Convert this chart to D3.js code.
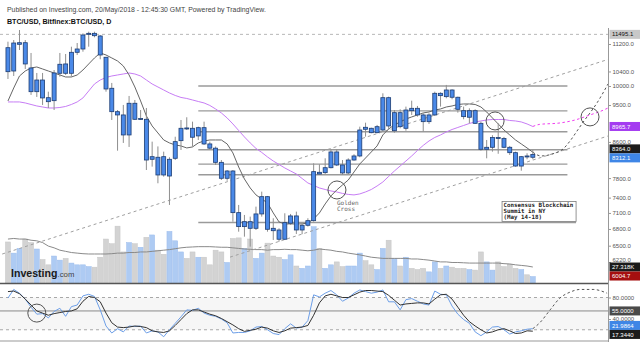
<!DOCTYPE html>
<html>
<head>
<meta charset="utf-8">
<title>BTC/USD Bitfinex daily</title>
<style>
    body { margin: 0; background: #fff; }
    svg { display: block; font-family: "Liberation Sans", Arial, sans-serif; }
</style>
</head>
<body>
<svg width="640" height="353"></svg>
<script src="https://cdn.jsdelivr.net/npm/d3@7"></script>
<script>
// daily bars, one per day from the first date
var firstDay = "2018-02-17";

var opens = [11089,10413,11191,11239,10498,9848,10163,9690,9612,10349,
    10613,10349,10952,11050,11497,11527,11445,10806,9939,9331,
    9249,8763,9545,9141,9141,8206,8251,8264,7844,8228,
    8629,8930,8922,8740,8937,8553,8456,8139,7796,7951,
    7106,6843,6935,6812,7081,7419,6812,6781,6614,6906,
    7043,6781,6868,6954,7923,7916,8022,8370,8081,7909,
    8190,8280,8946,8922,8817,8881,9690,8864,9306,8922,
    9416,9416,9249,9083,9249,9805,9717,9893,9701,9356,
    9192,9356,9042,8431,8476,8702,8678,8476,8354,8058,
    8280,8251];
var highs = [11270,11321,11631,11321,10932,10358,10358,9848,10441,10932,
    10902,11119,11230,11527,11578,11578,11476,10815,10083,9373,
    9502,9735,9630,9373,9424,8606,8496,8377,8251,8721,
    9124,9191,9083,8961,9083,8606,8494,8190,7972,7972,
    7255,7062,7030,7222,7520,7433,6999,6812,7094,7081,
    7125,6906,6999,8118,8096,8228,8431,8431,8190,8228,
    8318,8961,9058,8937,9003,9805,9717,9373,9391,9459,
    9612,9476,9291,9291,9848,9832,10029,9912,9717,9459,
    9416,9391,9083,8645,8757,9042,8717,8507,8377,8280,
    8340,8415];
var lows = [10191,10274,11020,10470,9762,9709,9502,9424,9373,10255,
    10302,10255,10873,10970,11119,11405,10748,9848,9124,8399,
    8576,8484,9124,9124,7972,8045,7692,7830,7255,8190,
    8415,8881,8491,8645,8530,8433,8081,7760,7745,6935,
    6750,6660,6483,6781,7030,6750,6601,6571,6601,6874,
    6709,6705,6844,6935,7866,7887,8008,8058,7866,7887,
    8175,8251,8723,8803,8803,8841,8881,8817,8922,8864,
    9249,9207,8841,9027,9224,9459,9674,9648,9306,9141,
    9042,9027,8399,8228,8377,8329,8456,8302,8044,7957,
    8206,8206];
var closes = [10394,11230,11239,10613,9848,10163,9683,9586,10358,10604,
    10349,10952,11050,11476,11527,11454,10873,9920,9331,9249,
    8763,9545,9141,9160,8190,8264,7866,7866,8206,8606,
    8922,8915,8709,8937,8553,8456,8139,7796,7951,7106,
    6843,6935,6812,7081,7419,6794,6768,6614,6917,7043,
    6781,6868,6954,7937,7887,8022,8370,8081,7909,8190,
    8280,8881,8898,8817,8961,9690,8978,9306,8961,9373,
    9356,9249,9083,9249,9805,9743,9893,9701,9391,9207,
    9356,9042,8431,8476,8702,8690,8476,8354,8058,8264,
    8270,8312.1];
// volume in thousands
var volumesK = [70,51,59,75,69,58,40,31,46,39,
    42,34,31,31,28,27,44,75,67,97,
    53,69,67,61,78,82,56,49,88,72,
    53,42,53,44,44,31,56,53,35,76,
    77,59,75,42,51,68,46,44,40,48,
    29,25,29,96,59,25,31,36,28,29,
    29,51,38,31,23,59,73,42,29,44,
    25,23,25,19,36,25,29,27,25,25,
    23,22,53,36,22,36,28,32,25,23,
    14,11];
var volumeAvgK = [75,76,75,75,73,72,69,63,60,56,
    54,52,51,50,49.5,49.5,49.5,49.5,50,51,
    51,52,52,53,53,54,55,56,57,58.5,
    60,61,61.5,62,62,62,61.5,61,61,60,
    59,58,57.5,57,57,56,57,57,57.5,57,
    57,56,55,56,58,57,56,54,53,51,
    49.5,48,46,44,43,42,42,42,42,42,
    41,41,40,39,37.5,36,36,35,35,34.5,
    34,34,34,34,34,34,33,32.5,31,30,
    29,27.318];
// short moving average (gray) and long one (violet)
var maShort = [9604,9947,10274,10413,10498,10527,10470,10413,10358,10302,
    10246,10246,10302,10441,10613,10786,10932,10873,10786,10698,
    10555,10302,9974,9604,9224,8978,8810,8645,8576,8530,
    8507,8461,8484,8576,8622,8645,8645,8645,8553,8348,
    8037,7781,7595,7454,7373,7294,7100,6930,6893,6893,
    6893,6893,6911,6986,7100,7275,7433,7554,7657,7760,
    7930,8103,8235,8370,8507,8763,8905,9003,9075,9149,
    9199,9249,9299,9323,9373,9399,9450,9476,9514,9527,
    9527,9514,9450,9323,9174,9027,8881,8763,8645,8553,
    8461,8364.0];
var maLong = [9579,9579,9579,9553,9514,9476,9450,9424,9424,9437,
    9463,9514,9579,9683,9867,10055,10163,10233,10274,10302,
    10330,10358,10330,10274,10163,10055,9974,9893,9814,9748,
    9696,9669,9630,9591,9553,9489,9399,9299,9174,9027,
    8869,8716,8576,8450,8359,8258,8168,8092,8016,7951,
    7887,7792,7698,7647,7595,7564,7534,7514,7484,7464,
    7454,7474,7514,7564,7636,7719,7835,7951,8059,8168,
    8280,8404,8519,8622,8704,8763,8834,8893,8942,8990,
    9039,9076,9100,9124,9136,9136,9136,9112,9100,9076,
    9027,8965.7];
// stochastic %K and %D
var stochK = [79,95,88,77,62,49,50,42,54,60,
    45,63,66,83,86,82,57,27,14,22,
    16,27,26,27,14,18,16,7,20,32,
    44,57,56,60,51,47,45,40,33,14,
    15,15,18,25,26,20,13,11,22,31,
    23,25,37,85,81,88,93,85,73,79,
    88,94,91,88,90,94,72,72,57,76,
    78,73,68,66,92,86,85,64,49,39,
    32,16,9,16,25,26,20,12,16,18,
    21,21.9864];
var stochD = [91,92,87,77,66,55,51,47,50,52,
    54,55,59,73,82,80,72,51,33,25,
    24,25,27,26,24,18,16,15,18,28,
    39,50,57,57,53,49,46,41,35,29,
    22,17,19,21,25,23,18,15,18,23,
    24,25,28,47,70,83,86,83,80,80,
    85,90,93,93,92,91,84,75,66,68,
    69,70,70,68,77,85,86,77,62,47,
    35,27,20,14,16,20,22,18,13,14,
    18,17.344];

// axis ticks
var timeTicks = ["2018-02-22","2018-03-01","2018-03-08","2018-03-15","2018-03-22","2018-04-01",
    "2018-04-08","2018-04-15","2018-04-22","2018-05-01","2018-05-08","2018-05-15","2018-05-22","2018-06-01"];
var timeLabels = ["22","Mar","8","15","22","Apr","8","15","22","May","8","15","22","Jun"];
var priceTicks = [11200, 10400, 10000, 9500, 8600, 7800, 7400, 7100, 6800, 6500, 6220];
var oscTicks = [80, 40];
var oscLevels = [80, 55, 20];

// drawings on the chart
var highLine = 11495.1;
var lastVolumeAvgK = 27.318;
var lowMarker = 6004.7;
var levelPrices = [10000, 9350, 8840, 8420, 8100, 7870, 6920];
var levelStart = "2018-03-22T00:00";
var levelEnds = ["2018-05-25T00:00","2018-05-25T00:00","2018-05-25T00:00","2018-05-25T00:00",
    "2018-05-25T00:00","2018-05-25T00:00","2018-05-26T12:00"];
var trendUpper = [["2018-02-16T00:00", 6355], ["2018-06-01T00:00", 10741]];
var trendLower = [["2018-03-27T12:00", 6302], ["2018-06-01T00:00", 8737]];
var shortProjection = [["2018-05-19T00:00", 8364], ["2018-05-20T10:00", 8280], ["2018-05-22T12:00", 8329],
    ["2018-05-24T06:00", 8438], ["2018-05-25T11:00", 8622], ["2018-05-26T16:00", 8857],
    ["2018-05-27T21:00", 9100], ["2018-05-28T22:00", 9299], ["2018-05-30T03:00", 9553],
    ["2018-05-31T04:00", 9814], ["2018-06-01T01:00", 10056]];
var longProjection = [["2018-05-19T00:00", 8965.7], ["2018-05-20T03:00", 9015], ["2018-05-23T17:00", 9051],
    ["2018-05-26T08:00", 9124], ["2018-05-28T22:00", 9249], ["2018-05-30T16:00", 9336], ["2018-06-01T01:00", 9424]];
var oscProjection = [["2018-05-19T00:00", 21.99], ["2018-05-20T05:00", 33], ["2018-05-22T00:00", 57],
    ["2018-05-23T17:00", 79], ["2018-05-25T11:00", 90], ["2018-05-27T05:00", 95],
    ["2018-05-29T11:00", 95], ["2018-05-31T21:00", 88]];
var priceCircles = [["2018-04-15T01:00", 7554], ["2018-05-12T11:00", 9100], ["2018-05-28T22:00", 9200]];
var oscCircle = ["2018-02-22T00:00", 51];
var crossNote = ["Golden", "Cross"];
var eventNote = ["Consensus Blockchain", "Summit in NY", "(May 14-18)"];
var eventBox = [["2018-05-13T16:00", 7323], ["2018-05-26T12:00", 6939]];

var svg = d3.select("svg");
var parseDay = d3.utcParse("%Y-%m-%d");
var parseTime = d3.utcParse("%Y-%m-%dT%H:%M");
var day0 = parseDay(firstDay);

var bars = opens.map(function(o, i) {
    return {
        date: d3.utcDay.offset(day0, i),
        o: o, h: highs[i], l: lows[i], c: closes[i],
        v: volumesK[i], va: volumeAvgK[i],
        ma1: maShort[i], ma2: maLong[i],
        k: stochK[i], d: stochD[i]
    };
});

var plotRight = 608;
var x = d3.scaleUtc().domain([parseDay("2018-02-22"), parseDay("2018-06-01")]).range([36.8, 607.8]);
var y = d3.scaleLog().domain([6220, 11200]).range([262, 44]);
var yVol = d3.scaleLinear().domain([0, 100]).range([283, 224.4]);
var yOsc = d3.scaleLinear().domain([0, 100]).range([340.5, 286.75]);

var defs = svg.append("defs");
defs.append("clipPath").attr("id", "mainClip")
    .append("rect").attr("x", 0).attr("y", 28).attr("width", plotRight).attr("height", 255);
defs.append("clipPath").attr("id", "oscClip")
    .append("rect").attr("x", 0).attr("y", 284).attr("width", plotRight).attr("height", 57);
defs.append("clipPath").attr("id", "axisClip")
    .append("rect").attr("x", 0).attr("y", 340).attr("width", plotRight + 1).attr("height", 13);

// header
svg.append("text").attr("x", 7).attr("y", 11.5).attr("font-size", 6.9).attr("fill", "#444")
    .text("Published on Investing.com, 20/May/2018 - 12:45:30 GMT, Powered by TradingView.");
svg.append("text").attr("x", 7).attr("y", 23.5).attr("font-size", 7.1).attr("font-weight", "bold").attr("fill", "#111")
    .text("BTC/USD, Bitfinex:BTC/USD, D");

var main = svg.append("g").attr("clip-path", "url(#mainClip)");

// volume
main.append("g").selectAll("rect").data(bars).enter().append("rect")
    .attr("x", function(d) { return x(d.date) - 2.5; })
    .attr("width", 5)
    .attr("y", function(d) { return yVol(d.v); })
    .attr("height", function(d) { return yVol(0) - yVol(d.v); })
    .attr("fill", function(d) { return d.c >= d.o ? "#aecbf3" : "#d3d3d3"; })
    .attr("stroke", function(d) { return d.c >= d.o ? "#9bbcec" : "#c6c6c6"; })
    .attr("stroke-width", 0.5);

main.append("path").datum(bars)
    .attr("fill", "none").attr("stroke", "#8a8a8a").attr("stroke-width", 1)
    .attr("d", d3.line().x(function(d) { return x(d.date); }).y(function(d) { return yVol(d.va); }));

// logo
var logo = svg.append("text").attr("x", 11).attr("y", 276.5);
logo.append("tspan").attr("font-size", 10.6).attr("font-weight", "bold").attr("fill", "#1a1a1a").text("Investing");
logo.append("tspan").attr("font-size", 7.8).attr("fill", "#444").text(".com");

// high line
main.append("line").attr("x1", 0).attr("x2", plotRight).attr("y1", y(highLine)).attr("y2", y(highLine))
    .attr("stroke", "#b8b8b8").attr("stroke-dasharray", "3,3");

// horizontal levels
main.append("g").selectAll("line").data(levelPrices).enter().append("line")
    .attr("x1", x(parseTime(levelStart)))
    .attr("x2", function(d, i) { return x(parseTime(levelEnds[i])); })
    .attr("y1", function(d) { return y(d); })
    .attr("y2", function(d) { return y(d); })
    .attr("stroke", "#9a9a9a").attr("stroke-width", 1.4);

// trend lines
var pLine = d3.line().x(function(d) { return x(parseTime(d[0])); }).y(function(d) { return y(d[1]); });
[trendUpper, trendLower].forEach(function(t) {
    main.append("path").datum(t).attr("d", pLine)
        .attr("fill", "none").attr("stroke", "#a0a0a0").attr("stroke-dasharray", "3,3");
});

// moving averages
main.append("path").datum(bars).attr("fill", "none").attr("stroke", "#c77df5").attr("stroke-width", 1)
    .attr("d", d3.line().x(function(d) { return x(d.date); }).y(function(d) { return y(d.ma2); }));
main.append("path").datum(bars).attr("fill", "none").attr("stroke", "#666").attr("stroke-width", 1)
    .attr("d", d3.line().x(function(d) { return x(d.date); }).y(function(d) { return y(d.ma1); }));

var pCurve = d3.line().curve(d3.curveMonotoneX)
    .x(function(d) { return x(parseTime(d[0])); }).y(function(d) { return y(d[1]); });
main.append("path").datum(longProjection).attr("d", pCurve)
    .attr("fill", "none").attr("stroke", "#f03cf0").attr("stroke-dasharray", "2.5,2.5");
main.append("path").datum(shortProjection).attr("d", pCurve)
    .attr("fill", "none").attr("stroke", "#555").attr("stroke-dasharray", "2.5,2.5");

// candles
var candles = main.append("g").selectAll("g").data(bars).enter().append("g");
candles.append("line")
    .attr("x1", function(d) { return x(d.date); })
    .attr("x2", function(d) { return x(d.date); })
    .attr("y1", function(d) { return y(d.h); })
    .attr("y2", function(d) { return y(d.l); })
    .attr("stroke", "#8f8f8f").attr("stroke-width", 1);
candles.append("rect")
    .attr("x", function(d) { return x(d.date) - 2; })
    .attr("width", 4)
    .attr("y", function(d) { return y(Math.max(d.o, d.c)); })
    .attr("height", function(d) { return Math.max(1, Math.abs(y(d.o) - y(d.c))); })
    .attr("fill", "#4a89e8").attr("stroke", "#1d3d73").attr("stroke-width", 0.8);

// circles and notes
main.append("g").selectAll("circle").data(priceCircles).enter().append("circle")
    .attr("cx", function(d) { return x(parseTime(d[0])); })
    .attr("cy", function(d) { return y(d[1]); })
    .attr("r", 9).attr("fill", "none").attr("stroke", "#555").attr("stroke-width", 1);

var gc = priceCircles[0];
main.append("g").selectAll("text").data(crossNote).enter().append("text")
    .attr("x", x(parseTime(gc[0])))
    .attr("y", function(d, i) { return y(gc[1]) + 15 + i * 6.5; })
    .attr("font-family", "'DejaVu Sans Mono', monospace").attr("font-size", 6).attr("fill", "#666")
    .text(function(d) { return d; });

var bx0 = x(parseTime(eventBox[0][0])), bx1 = x(parseTime(eventBox[1][0]));
var by0 = y(eventBox[0][1]), by1 = y(eventBox[1][1]);
main.append("rect").attr("x", bx0).attr("y", by0).attr("width", bx1 - bx0).attr("height", by1 - by0)
    .attr("fill", "#fff").attr("stroke", "#7a7a7a").attr("stroke-width", 0.8);
main.append("g").selectAll("text").data(eventNote).enter().append("text")
    .attr("x", bx0 + 1.5)
    .attr("y", function(d, i) { return by0 + 6 + i * 6; })
    .attr("font-family", "'DejaVu Sans Mono', monospace").attr("font-size", 5.8)
    .attr("font-weight", "bold").attr("fill", "#222")
    .text(function(d) { return d; });

// pane separator
svg.append("line").attr("x1", 0).attr("x2", plotRight).attr("y1", 283.5).attr("y2", 283.5)
    .attr("stroke", "#555").attr("stroke-width", 1.3);

// oscillator pane
var osc = svg.append("g").attr("clip-path", "url(#oscClip)");
osc.append("rect").attr("x", 0).attr("width", plotRight)
    .attr("y", yOsc(80)).attr("height", yOsc(20) - yOsc(80)).attr("fill", "#f6f6f6");
osc.append("g").selectAll("line").data(oscLevels).enter().append("line")
    .attr("x1", 0).attr("x2", plotRight)
    .attr("y1", function(d) { return yOsc(d); }).attr("y2", function(d) { return yOsc(d); })
    .attr("stroke", function(d) { return d == 55 ? "#8a8a8a" : "#a8a8a8"; })
    .attr("stroke-dasharray", function(d) { return d == 55 ? null : "3,3"; });
osc.append("path").datum(bars).attr("fill", "none").attr("stroke", "#6d9fe8").attr("stroke-width", 1)
    .attr("d", d3.line().x(function(d) { return x(d.date); }).y(function(d) { return yOsc(d.k); }));
osc.append("path").datum(bars).attr("fill", "none").attr("stroke", "#333").attr("stroke-width", 1)
    .attr("d", d3.line().x(function(d) { return x(d.date); }).y(function(d) { return yOsc(d.d); }));
osc.append("path").datum(oscProjection).attr("fill", "none").attr("stroke", "#555").attr("stroke-dasharray", "2.5,2.5")
    .attr("d", d3.line().curve(d3.curveMonotoneX)
        .x(function(d) { return x(parseTime(d[0])); }).y(function(d) { return yOsc(d[1]); }));
osc.append("circle").attr("cx", x(parseTime(oscCircle[0]))).attr("cy", yOsc(oscCircle[1]))
    .attr("r", 9).attr("fill", "none").attr("stroke", "#555");

// time axis
var tAxis = svg.append("g").attr("transform", "translate(0,341)").attr("clip-path", "url(#axisClip)")
    .call(d3.axisBottom(x).tickValues(timeTicks.map(parseDay)).tickSize(2.5)
        .tickFormat(function(d, i) { return timeLabels[i]; }));
tAxis.select(".domain").remove();
svg.append("line").attr("x1", 0).attr("x2", plotRight).attr("y1", 341).attr("y2", 341).attr("stroke", "#999");
tAxis.selectAll("line").attr("stroke", "#999");
tAxis.selectAll("text").attr("font-size", 6).attr("fill", "#555").attr("dy", "0.55em")
    .attr("font-family", "'Liberation Sans', Arial, sans-serif");

// price axis
svg.append("line").attr("x1", plotRight + 0.5).attr("x2", plotRight + 0.5).attr("y1", 28).attr("y2", 342)
    .attr("stroke", "#999");
var pAxis = svg.append("g").attr("transform", "translate(" + (plotRight + 0.5) + ",0)")
    .call(d3.axisRight(y).tickValues(priceTicks).tickSize(2.5).tickFormat(d3.format(".1f")));
var oAxis = svg.append("g").attr("transform", "translate(" + (plotRight + 0.5) + ",0)")
    .call(d3.axisRight(yOsc).tickValues(oscTicks).tickSize(2.5).tickFormat(d3.format(".4f")));
[pAxis, oAxis].forEach(function(a) {
    a.select(".domain").remove();
    a.selectAll("line").attr("stroke", "#999");
    a.selectAll("text").attr("font-size", 6).attr("fill", "#555").attr("x", 4)
        .attr("font-family", "'Liberation Sans', Arial, sans-serif");
});
// lowest tick label sits just above the volume tag
pAxis.selectAll(".tick").filter(function(d) { return d == 6220; }).select("text").attr("dy", "-0.05em");

// value tags on the right, pushed apart where they overlap
function spread(list) {
    list.sort(function(a, b) { return a.y - b.y; });
    for (var i = 1; i < list.length; i++) {
        var gap = list[i].y - list[i - 1].y;
        if (gap < 9) {
            var push = (9 - gap) / 2;
            list[i - 1].y -= push;
            list[i].y += push;
        }
    }
    return list;
}
var mainTags = spread([
    {y: y(highLine), t: highLine.toFixed(1), bg: "#c8c8c8", fg: "#111"},
    {y: y(maLong[maLong.length - 1]), t: maLong[maLong.length - 1].toFixed(1), bg: "#a43cf0", fg: "#fff"},
    {y: y(maShort[maShort.length - 1]), t: maShort[maShort.length - 1].toFixed(1), bg: "#1b1b1b", fg: "#fff"},
    {y: y(closes[closes.length - 1]), t: closes[closes.length - 1].toFixed(1), bg: "#3f86e6", fg: "#fff"},
    {y: yVol(lastVolumeAvgK) + 1, t: lastVolumeAvgK.toFixed(3) + "K", bg: "#1b1b1b", fg: "#fff"},
    {y: y(lowMarker), t: lowMarker.toFixed(1), bg: "#a50f0f", fg: "#fff"}
]);
var oscTags = spread([
    {y: yOsc(55), t: (55).toFixed(4), bg: "#4a4a4a", fg: "#fff"},
    {y: yOsc(stochK[stochK.length - 1]), t: stochK[stochK.length - 1].toFixed(4), bg: "#3f86e6", fg: "#fff"},
    {y: yOsc(stochD[stochD.length - 1]), t: stochD[stochD.length - 1].toFixed(4), bg: "#1b1b1b", fg: "#fff"}
]);
var tags = svg.append("g").selectAll("g").data(mainTags.concat(oscTags)).enter().append("g");
tags.append("rect").attr("x", plotRight + 1.5).attr("width", 31).attr("height", 9)
    .attr("y", function(d) { return d.y - 4.5; })
    .attr("fill", function(d) { return d.bg; });
tags.append("text").attr("x", plotRight + 4).attr("y", function(d) { return d.y; }).attr("dy", "0.35em")
    .attr("font-size", 6).attr("fill", function(d) { return d.fg; })
    .text(function(d) { return d.t; });
</script>
</body>
</html>
